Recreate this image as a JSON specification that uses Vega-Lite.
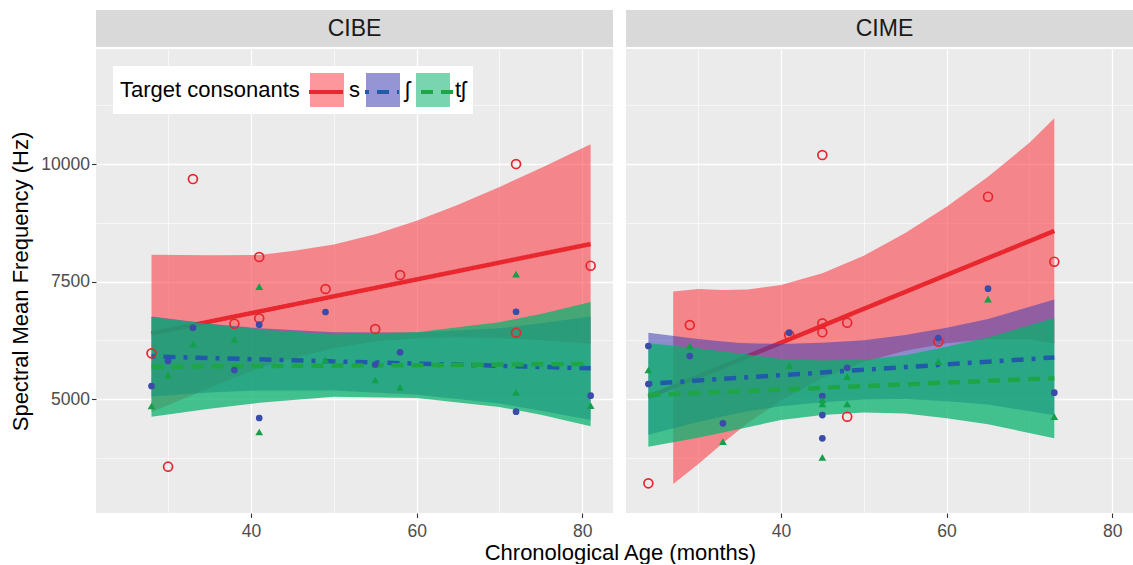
{
  "$schema": "https://vega.github.io/schema/vega-lite/v6.json",
  "background": "white",
  "padding": {"left": 9, "top": 10, "right": 0, "bottom": 0},
  "autosize": {"type": "pad"},
  "datasets": {
    "points": [
      {"panel": "CIBE", "consonant": "s", "age": 28, "freq": 5977},
      {"panel": "CIBE", "consonant": "s", "age": 30, "freq": 3568},
      {"panel": "CIBE", "consonant": "s", "age": 33, "freq": 9681},
      {"panel": "CIBE", "consonant": "s", "age": 38, "freq": 6606},
      {"panel": "CIBE", "consonant": "s", "age": 41, "freq": 8024},
      {"panel": "CIBE", "consonant": "s", "age": 41, "freq": 6721},
      {"panel": "CIBE", "consonant": "s", "age": 49, "freq": 7344},
      {"panel": "CIBE", "consonant": "s", "age": 55, "freq": 6494},
      {"panel": "CIBE", "consonant": "s", "age": 58, "freq": 7641},
      {"panel": "CIBE", "consonant": "s", "age": 72, "freq": 10000},
      {"panel": "CIBE", "consonant": "s", "age": 72, "freq": 6415},
      {"panel": "CIBE", "consonant": "s", "age": 81, "freq": 7839},
      {"panel": "CIBE", "consonant": "ʃ", "age": 28, "freq": 5283},
      {"panel": "CIBE", "consonant": "ʃ", "age": 30, "freq": 5814},
      {"panel": "CIBE", "consonant": "ʃ", "age": 33, "freq": 6521},
      {"panel": "CIBE", "consonant": "ʃ", "age": 38, "freq": 5623},
      {"panel": "CIBE", "consonant": "ʃ", "age": 41, "freq": 6585},
      {"panel": "CIBE", "consonant": "ʃ", "age": 41, "freq": 4603},
      {"panel": "CIBE", "consonant": "ʃ", "age": 49, "freq": 6855},
      {"panel": "CIBE", "consonant": "ʃ", "age": 55, "freq": 5740},
      {"panel": "CIBE", "consonant": "ʃ", "age": 58, "freq": 5999},
      {"panel": "CIBE", "consonant": "ʃ", "age": 72, "freq": 6861},
      {"panel": "CIBE", "consonant": "ʃ", "age": 72, "freq": 4737},
      {"panel": "CIBE", "consonant": "ʃ", "age": 81, "freq": 5077},
      {"panel": "CIBE", "consonant": "tʃ", "age": 28, "freq": 4858},
      {"panel": "CIBE", "consonant": "tʃ", "age": 30, "freq": 5516},
      {"panel": "CIBE", "consonant": "tʃ", "age": 33, "freq": 6175},
      {"panel": "CIBE", "consonant": "tʃ", "age": 38, "freq": 6275},
      {"panel": "CIBE", "consonant": "tʃ", "age": 41, "freq": 7393},
      {"panel": "CIBE", "consonant": "tʃ", "age": 41, "freq": 4305},
      {"panel": "CIBE", "consonant": "tʃ", "age": 49, "freq": 5835},
      {"panel": "CIBE", "consonant": "tʃ", "age": 55, "freq": 5410},
      {"panel": "CIBE", "consonant": "tʃ", "age": 58, "freq": 5255},
      {"panel": "CIBE", "consonant": "tʃ", "age": 72, "freq": 7662},
      {"panel": "CIBE", "consonant": "tʃ", "age": 72, "freq": 5149},
      {"panel": "CIBE", "consonant": "tʃ", "age": 81, "freq": 4864},
      {"panel": "CIME", "consonant": "s", "age": 24, "freq": 3215},
      {"panel": "CIME", "consonant": "s", "age": 29, "freq": 6579},
      {"panel": "CIME", "consonant": "s", "age": 41, "freq": 6366},
      {"panel": "CIME", "consonant": "s", "age": 45, "freq": 10191},
      {"panel": "CIME", "consonant": "s", "age": 45, "freq": 6615},
      {"panel": "CIME", "consonant": "s", "age": 45, "freq": 6424},
      {"panel": "CIME", "consonant": "s", "age": 48, "freq": 6628},
      {"panel": "CIME", "consonant": "s", "age": 48, "freq": 4630},
      {"panel": "CIME", "consonant": "s", "age": 59, "freq": 6224},
      {"panel": "CIME", "consonant": "s", "age": 65, "freq": 9305},
      {"panel": "CIME", "consonant": "s", "age": 73, "freq": 7924},
      {"panel": "CIME", "consonant": "ʃ", "age": 24, "freq": 6133},
      {"panel": "CIME", "consonant": "ʃ", "age": 24, "freq": 5325},
      {"panel": "CIME", "consonant": "ʃ", "age": 29, "freq": 5920},
      {"panel": "CIME", "consonant": "ʃ", "age": 33, "freq": 4490},
      {"panel": "CIME", "consonant": "ʃ", "age": 41, "freq": 6415},
      {"panel": "CIME", "consonant": "ʃ", "age": 45, "freq": 5070},
      {"panel": "CIME", "consonant": "ʃ", "age": 45, "freq": 4666},
      {"panel": "CIME", "consonant": "ʃ", "age": 45, "freq": 4171},
      {"panel": "CIME", "consonant": "ʃ", "age": 48, "freq": 5671},
      {"panel": "CIME", "consonant": "ʃ", "age": 59, "freq": 6303},
      {"panel": "CIME", "consonant": "ʃ", "age": 65, "freq": 7350},
      {"panel": "CIME", "consonant": "ʃ", "age": 73, "freq": 5140},
      {"panel": "CIME", "consonant": "tʃ", "age": 24, "freq": 5623},
      {"panel": "CIME", "consonant": "tʃ", "age": 29, "freq": 6133},
      {"panel": "CIME", "consonant": "tʃ", "age": 33, "freq": 4099},
      {"panel": "CIME", "consonant": "tʃ", "age": 41, "freq": 5714},
      {"panel": "CIME", "consonant": "tʃ", "age": 45, "freq": 4985},
      {"panel": "CIME", "consonant": "tʃ", "age": 45, "freq": 4900},
      {"panel": "CIME", "consonant": "tʃ", "age": 45, "freq": 3768},
      {"panel": "CIME", "consonant": "tʃ", "age": 48, "freq": 5480},
      {"panel": "CIME", "consonant": "tʃ", "age": 48, "freq": 4900},
      {"panel": "CIME", "consonant": "tʃ", "age": 59, "freq": 5799},
      {"panel": "CIME", "consonant": "tʃ", "age": 65, "freq": 7131},
      {"panel": "CIME", "consonant": "tʃ", "age": 73, "freq": 4630}
    ],
    "fits": [
      {"panel": "CIBE", "consonant": "s", "age": 28, "fit": 6400, "lo": 4730, "hi": 8070},
      {"panel": "CIBE", "consonant": "s", "age": 35, "fit": 6651, "lo": 5241, "hi": 8061},
      {"panel": "CIBE", "consonant": "s", "age": 41, "fit": 6866, "lo": 5666, "hi": 8066},
      {"panel": "CIBE", "consonant": "s", "age": 45, "fit": 7009, "lo": 5869, "hi": 8149},
      {"panel": "CIBE", "consonant": "s", "age": 50, "fit": 7188, "lo": 6085, "hi": 8291},
      {"panel": "CIBE", "consonant": "s", "age": 55, "fit": 7368, "lo": 6227, "hi": 8509},
      {"panel": "CIBE", "consonant": "s", "age": 60, "fit": 7547, "lo": 6299, "hi": 8795},
      {"panel": "CIBE", "consonant": "s", "age": 65, "fit": 7726, "lo": 6318, "hi": 9134},
      {"panel": "CIBE", "consonant": "s", "age": 70, "fit": 7906, "lo": 6300, "hi": 9512},
      {"panel": "CIBE", "consonant": "s", "age": 75, "fit": 8085, "lo": 6256, "hi": 9914},
      {"panel": "CIBE", "consonant": "s", "age": 81, "fit": 8300, "lo": 6180, "hi": 10420},
      {"panel": "CIBE", "consonant": "ʃ", "age": 28, "fit": 5910, "lo": 5060, "hi": 6760},
      {"panel": "CIBE", "consonant": "ʃ", "age": 35, "fit": 5877, "lo": 5147, "hi": 6607},
      {"panel": "CIBE", "consonant": "ʃ", "age": 41, "fit": 5849, "lo": 5189, "hi": 6509},
      {"panel": "CIBE", "consonant": "ʃ", "age": 50, "fit": 5806, "lo": 5186, "hi": 6426},
      {"panel": "CIBE", "consonant": "ʃ", "age": 60, "fit": 5759, "lo": 5099, "hi": 6419},
      {"panel": "CIBE", "consonant": "ʃ", "age": 70, "fit": 5712, "lo": 4912, "hi": 6512},
      {"panel": "CIBE", "consonant": "ʃ", "age": 75, "fit": 5688, "lo": 4758, "hi": 6618},
      {"panel": "CIBE", "consonant": "ʃ", "age": 81, "fit": 5660, "lo": 4560, "hi": 6760},
      {"panel": "CIBE", "consonant": "tʃ", "age": 28, "fit": 5690, "lo": 4630, "hi": 6750},
      {"panel": "CIBE", "consonant": "tʃ", "age": 35, "fit": 5698, "lo": 4798, "hi": 6598},
      {"panel": "CIBE", "consonant": "tʃ", "age": 41, "fit": 5705, "lo": 4925, "hi": 6485},
      {"panel": "CIBE", "consonant": "tʃ", "age": 50, "fit": 5715, "lo": 5055, "hi": 6375},
      {"panel": "CIBE", "consonant": "tʃ", "age": 60, "fit": 5726, "lo": 5026, "hi": 6426},
      {"panel": "CIBE", "consonant": "tʃ", "age": 70, "fit": 5738, "lo": 4838, "hi": 6638},
      {"panel": "CIBE", "consonant": "tʃ", "age": 75, "fit": 5744, "lo": 4674, "hi": 6814},
      {"panel": "CIBE", "consonant": "tʃ", "age": 81, "fit": 5750, "lo": 4430, "hi": 7070},
      {"panel": "CIME", "consonant": "s", "age": 24, "fit": 5050, "lo": null, "hi": null},
      {"panel": "CIME", "consonant": "s", "age": 27, "fit": 5266, "lo": 3200, "hi": 7290},
      {"panel": "CIME", "consonant": "s", "age": 30, "fit": 5482, "lo": 3622, "hi": 7342},
      {"panel": "CIME", "consonant": "s", "age": 33, "fit": 5698, "lo": 4074, "hi": 7322},
      {"panel": "CIME", "consonant": "s", "age": 36, "fit": 5914, "lo": 4494, "hi": 7334},
      {"panel": "CIME", "consonant": "s", "age": 40, "fit": 6202, "lo": 4975, "hi": 7429},
      {"panel": "CIME", "consonant": "s", "age": 45, "fit": 6562, "lo": 5447, "hi": 7677},
      {"panel": "CIME", "consonant": "s", "age": 50, "fit": 6922, "lo": 5792, "hi": 8052},
      {"panel": "CIME", "consonant": "s", "age": 55, "fit": 7282, "lo": 6032, "hi": 8532},
      {"panel": "CIME", "consonant": "s", "age": 60, "fit": 7642, "lo": 6191, "hi": 9093},
      {"panel": "CIME", "consonant": "s", "age": 65, "fit": 8002, "lo": 6274, "hi": 9730},
      {"panel": "CIME", "consonant": "s", "age": 70, "fit": 8362, "lo": 6272, "hi": 10452},
      {"panel": "CIME", "consonant": "s", "age": 73, "fit": 8578, "lo": 6185, "hi": 10971},
      {"panel": "CIME", "consonant": "ʃ", "age": 24, "fit": 5330, "lo": 4245, "hi": 6415},
      {"panel": "CIME", "consonant": "ʃ", "age": 30, "fit": 5399, "lo": 4519, "hi": 6279},
      {"panel": "CIME", "consonant": "ʃ", "age": 35, "fit": 5456, "lo": 4716, "hi": 6196},
      {"panel": "CIME", "consonant": "ʃ", "age": 40, "fit": 5513, "lo": 4853, "hi": 6173},
      {"panel": "CIME", "consonant": "ʃ", "age": 45, "fit": 5570, "lo": 4940, "hi": 6200},
      {"panel": "CIME", "consonant": "ʃ", "age": 50, "fit": 5627, "lo": 4997, "hi": 6257},
      {"panel": "CIME", "consonant": "ʃ", "age": 55, "fit": 5684, "lo": 5004, "hi": 6364},
      {"panel": "CIME", "consonant": "ʃ", "age": 60, "fit": 5741, "lo": 4961, "hi": 6521},
      {"panel": "CIME", "consonant": "ʃ", "age": 65, "fit": 5799, "lo": 4889, "hi": 6709},
      {"panel": "CIME", "consonant": "ʃ", "age": 73, "fit": 5890, "lo": 4660, "hi": 7120},
      {"panel": "CIME", "consonant": "tʃ", "age": 24, "fit": 5090, "lo": 3990, "hi": 6190},
      {"panel": "CIME", "consonant": "tʃ", "age": 30, "fit": 5134, "lo": 4184, "hi": 6084},
      {"panel": "CIME", "consonant": "tʃ", "age": 35, "fit": 5171, "lo": 4371, "hi": 5971},
      {"panel": "CIME", "consonant": "tʃ", "age": 40, "fit": 5208, "lo": 4558, "hi": 5858},
      {"panel": "CIME", "consonant": "tʃ", "age": 45, "fit": 5244, "lo": 4664, "hi": 5824},
      {"panel": "CIME", "consonant": "tʃ", "age": 50, "fit": 5281, "lo": 4721, "hi": 5841},
      {"panel": "CIME", "consonant": "tʃ", "age": 55, "fit": 5318, "lo": 4698, "hi": 5938},
      {"panel": "CIME", "consonant": "tʃ", "age": 60, "fit": 5355, "lo": 4595, "hi": 6115},
      {"panel": "CIME", "consonant": "tʃ", "age": 65, "fit": 5392, "lo": 4472, "hi": 6312},
      {"panel": "CIME", "consonant": "tʃ", "age": 73, "fit": 5450, "lo": 4170, "hi": 6730}
    ]
  },
  "title": {"text": "Chronological Age (months)", "orient": "bottom", "anchor": "middle", "fontSize": 22, "fontWeight": "normal", "color": "#000000", "offset": 3, "dx": 49},
  "spacing": 13,
  "hconcat": [
    {
      "spacing": 2,
      "vconcat": [
        {
          "width": 517, "height": 37,
          "view": {"fill": "#D9D9D9", "stroke": null},
          "data": {"values": [{"panel": "CIBE"}]},
          "mark": {"type": "text", "fontSize": 23, "color": "#1A1A1A", "align": "center", "baseline": "middle"},
          "encoding": {"text": {"field": "panel", "type": "nominal"}}
        },
        {
          "width": 517, "height": 464,
          "encoding": {
            "x": {"field": "age", "type": "quantitative", "scale": {"domain": [21.3, 83.7], "nice": false, "zero": false},
              "axis": {"values": [30, 40, 50, 60, 70, 80], "title": null, "labelPadding": 5, "labelExpr": "datum.value % 20 === 0 ? datum.label : ''",
                "gridWidth": {"condition": {"test": "datum.value % 20 === 0", "value": 1.3}, "value": 0.6},
                "tickOpacity": {"condition": {"test": "datum.value % 20 === 0", "value": 1}, "value": 0}}}
          },
          "layer": [
            {
              "data": {"name": "fits"},
              "transform": [{"filter": "datum.panel === 'CIBE' && datum.consonant === 's' && isValid(datum.lo)"}],
              "mark": {"type": "area", "opacity": 0.6},
              "encoding": {
                "y": {"field": "lo", "type": "quantitative", "scale": {"domain": [2584, 12444], "nice": false, "zero": false},
                  "axis": {"values": [3750, 5000, 6250, 7500, 8750, 10000, 11250], "format": "d", "title": "Spectral Mean Frequency (Hz)",
                    "labelExpr": "datum.value % 2500 === 0 ? datum.label : ''",
                    "gridWidth": {"condition": {"test": "datum.value % 2500 === 0", "value": 1.3}, "value": 0.6},
                    "tickOpacity": {"condition": {"test": "datum.value % 2500 === 0", "value": 1}, "value": 0}}},
                "y2": {"field": "hi"},
                "fill": {"field": "consonant", "type": "nominal", "sort": ["s", "ʃ", "tʃ"], "scale": {"range": ["#FA424B", "#3E3EB4", "#0AB26E"]},
                  "legend": {"orient": "none", "legendX": 17, "legendY": 56, "direction": "horizontal", "title": "Target consonants", "titleOrient": "left", "titleFontSize": 22, "titleLimit": 400, "titleFontWeight": "normal", "titleColor": "#000000", "titlePadding": 10, "titleAnchor": "middle", "titleBaseline": "middle", "labelFontSize": 22, "labelColor": "#000000", "labelOffset": 5, "columnPadding": 6, "symbolType": "square", "symbolSize": 1156, "symbolStrokeWidth": 0, "symbolOpacity": 0.6, "fillColor": "#FFFFFF", "padding": 7}}
              }
            },
            {
              "data": {"name": "fits"},
              "transform": [{"filter": "datum.panel === 'CIBE' && datum.consonant === 's'"}],
              "mark": {"type": "line", "strokeWidth": 4.5},
              "encoding": {
                "y": {"field": "fit", "type": "quantitative"},
                "stroke": {"field": "consonant", "type": "nominal", "scale": {"domain": ["s", "ʃ", "tʃ"], "range": ["#E8282E", "#2159AB", "#1EA546"]},
                  "legend": {"orient": "none", "legendX": 204, "legendY": 56, "direction": "horizontal", "title": null, "labelExpr": "''", "labelOffset": 0, "columnPadding": 6, "symbolType": "stroke", "symbolSize": 1156, "symbolStrokeWidth": 4, "padding": 7}},
                "strokeDash": {"field": "consonant", "type": "nominal", "scale": {"domain": ["s", "ʃ", "tʃ"], "range": [[1, 0], [4, 8, 12, 8], [12, 8]]},
                  "legend": {"orient": "none", "legendX": 204, "legendY": 56, "direction": "horizontal", "title": null, "labelExpr": "''", "labelOffset": 0, "columnPadding": 6, "symbolType": "stroke", "symbolSize": 1156, "symbolStrokeWidth": 4, "padding": 7}}
              }
            },
            {
              "data": {"name": "fits"},
              "transform": [{"filter": "datum.panel === 'CIBE' && datum.consonant === 'ʃ'"}],
              "mark": {"type": "area", "opacity": 0.55},
              "encoding": {"y": {"field": "lo", "type": "quantitative"}, "y2": {"field": "hi"}, "fill": {"field": "consonant", "type": "nominal", "sort": ["s", "ʃ", "tʃ"]}}
            },
            {
              "data": {"name": "fits"},
              "transform": [{"filter": "datum.panel === 'CIBE' && datum.consonant === 'tʃ'"}],
              "mark": {"type": "area", "opacity": 0.75},
              "encoding": {"y": {"field": "lo", "type": "quantitative"}, "y2": {"field": "hi"}, "fill": {"field": "consonant", "type": "nominal", "sort": ["s", "ʃ", "tʃ"]}}
            },
            {
              "data": {"name": "fits"},
              "transform": [{"filter": "datum.panel === 'CIBE' && datum.consonant === 'ʃ'"}],
              "mark": {"type": "line", "strokeWidth": 4.5},
              "encoding": {"y": {"field": "fit", "type": "quantitative"}, "stroke": {"field": "consonant", "type": "nominal"}, "strokeDash": {"field": "consonant", "type": "nominal"}}
            },
            {
              "data": {"name": "fits"},
              "transform": [{"filter": "datum.panel === 'CIBE' && datum.consonant === 'tʃ'"}],
              "mark": {"type": "line", "strokeWidth": 4.5},
              "encoding": {"y": {"field": "fit", "type": "quantitative"}, "stroke": {"field": "consonant", "type": "nominal"}, "strokeDash": {"field": "consonant", "type": "nominal"}}
            },
            {
              "data": {"name": "points"},
              "transform": [{"filter": "datum.panel === 'CIBE' && datum.consonant === 's'"}],
              "mark": {"type": "point", "shape": "circle", "filled": false, "color": "#E8262E", "strokeWidth": 1.7, "size": 80, "opacity": 1},
              "encoding": {"y": {"field": "freq", "type": "quantitative"}}
            },
            {
              "data": {"name": "points"},
              "transform": [{"filter": "datum.panel === 'CIBE' && datum.consonant === 'ʃ'"}],
              "mark": {"type": "point", "shape": "circle", "filled": true, "color": "#3A4CA8", "size": 45, "opacity": 1},
              "encoding": {"y": {"field": "freq", "type": "quantitative"}}
            },
            {
              "data": {"name": "points"},
              "transform": [{"filter": "datum.panel === 'CIBE' && datum.consonant === 'tʃ'"}],
              "mark": {"type": "point", "shape": "triangle-up", "filled": true, "color": "#12A048", "size": 60, "opacity": 1},
              "encoding": {"y": {"field": "freq", "type": "quantitative"}}
            }
          ]
        }
      ]
    },
    {
      "spacing": 2,
      "vconcat": [
        {
          "width": 507, "height": 37,
          "view": {"fill": "#D9D9D9", "stroke": null},
          "data": {"values": [{"panel": "CIME"}]},
          "mark": {"type": "text", "fontSize": 23, "color": "#1A1A1A", "align": "center", "baseline": "middle", "dx": 5},
          "encoding": {"text": {"field": "panel", "type": "nominal"}}
        },
        {
          "width": 507, "height": 464,
          "encoding": {
            "x": {"field": "age", "type": "quantitative", "scale": {"domain": [21.3, 82.5], "nice": false, "zero": false},
              "axis": {"values": [30, 40, 50, 60, 70, 80], "title": null, "labelPadding": 5, "labelExpr": "datum.value % 20 === 0 ? datum.label : ''",
                "gridWidth": {"condition": {"test": "datum.value % 20 === 0", "value": 1.3}, "value": 0.6},
                "tickOpacity": {"condition": {"test": "datum.value % 20 === 0", "value": 1}, "value": 0}}}
          },
          "layer": [
            {
              "data": {"name": "fits"},
              "transform": [{"filter": "datum.panel === 'CIME' && datum.consonant === 's' && isValid(datum.lo)"}],
              "mark": {"type": "area", "opacity": 0.6},
              "encoding": {
                "y": {"field": "lo", "type": "quantitative", "scale": {"domain": [2584, 12444], "nice": false, "zero": false},
                  "axis": {"values": [3750, 5000, 6250, 7500, 8750, 10000, 11250], "title": null, "labels": false, "ticks": false,
                    "gridWidth": {"condition": {"test": "datum.value % 2500 === 0", "value": 1.3}, "value": 0.6}}},
                "y2": {"field": "hi"},
                "fill": {"field": "consonant", "type": "nominal", "sort": ["s", "ʃ", "tʃ"]}
              }
            },
            {
              "data": {"name": "fits"},
              "transform": [{"filter": "datum.panel === 'CIME' && datum.consonant === 's'"}],
              "mark": {"type": "line", "strokeWidth": 4.5},
              "encoding": {"y": {"field": "fit", "type": "quantitative"}, "stroke": {"field": "consonant", "type": "nominal"}, "strokeDash": {"field": "consonant", "type": "nominal"}}
            },
            {
              "data": {"name": "fits"},
              "transform": [{"filter": "datum.panel === 'CIME' && datum.consonant === 'ʃ'"}],
              "mark": {"type": "area", "opacity": 0.55},
              "encoding": {"y": {"field": "lo", "type": "quantitative"}, "y2": {"field": "hi"}, "fill": {"field": "consonant", "type": "nominal", "sort": ["s", "ʃ", "tʃ"]}}
            },
            {
              "data": {"name": "fits"},
              "transform": [{"filter": "datum.panel === 'CIME' && datum.consonant === 'tʃ'"}],
              "mark": {"type": "area", "opacity": 0.75},
              "encoding": {"y": {"field": "lo", "type": "quantitative"}, "y2": {"field": "hi"}, "fill": {"field": "consonant", "type": "nominal", "sort": ["s", "ʃ", "tʃ"]}}
            },
            {
              "data": {"name": "fits"},
              "transform": [{"filter": "datum.panel === 'CIME' && datum.consonant === 'ʃ'"}],
              "mark": {"type": "line", "strokeWidth": 4.5},
              "encoding": {"y": {"field": "fit", "type": "quantitative"}, "stroke": {"field": "consonant", "type": "nominal"}, "strokeDash": {"field": "consonant", "type": "nominal"}}
            },
            {
              "data": {"name": "fits"},
              "transform": [{"filter": "datum.panel === 'CIME' && datum.consonant === 'tʃ'"}],
              "mark": {"type": "line", "strokeWidth": 4.5},
              "encoding": {"y": {"field": "fit", "type": "quantitative"}, "stroke": {"field": "consonant", "type": "nominal"}, "strokeDash": {"field": "consonant", "type": "nominal"}}
            },
            {
              "data": {"name": "points"},
              "transform": [{"filter": "datum.panel === 'CIME' && datum.consonant === 's'"}],
              "mark": {"type": "point", "shape": "circle", "filled": false, "color": "#E8262E", "strokeWidth": 1.7, "size": 80, "opacity": 1},
              "encoding": {"y": {"field": "freq", "type": "quantitative"}}
            },
            {
              "data": {"name": "points"},
              "transform": [{"filter": "datum.panel === 'CIME' && datum.consonant === 'ʃ'"}],
              "mark": {"type": "point", "shape": "circle", "filled": true, "color": "#3A4CA8", "size": 45, "opacity": 1},
              "encoding": {"y": {"field": "freq", "type": "quantitative"}}
            },
            {
              "data": {"name": "points"},
              "transform": [{"filter": "datum.panel === 'CIME' && datum.consonant === 'tʃ'"}],
              "mark": {"type": "point", "shape": "triangle-up", "filled": true, "color": "#12A048", "size": 60, "opacity": 1},
              "encoding": {"y": {"field": "freq", "type": "quantitative"}}
            }
          ]
        }
      ]
    }
  ],
  "config": {
    "font": "Liberation Sans",
    "view": {"fill": "#EBEBEB", "stroke": null},
    "axis": {"gridColor": "#FFFFFF", "domain": false, "labelColor": "#4D4D4D", "labelFontSize": 17.5, "tickColor": "#333333", "tickSize": 4.5, "tickWidth": 1.1, "labelPadding": 2, "titleFontSize": 22, "titleFontWeight": "normal", "titleColor": "#000000", "titlePadding": 8, "labelOverlap": false, "labelFlush": false}
  }
}
